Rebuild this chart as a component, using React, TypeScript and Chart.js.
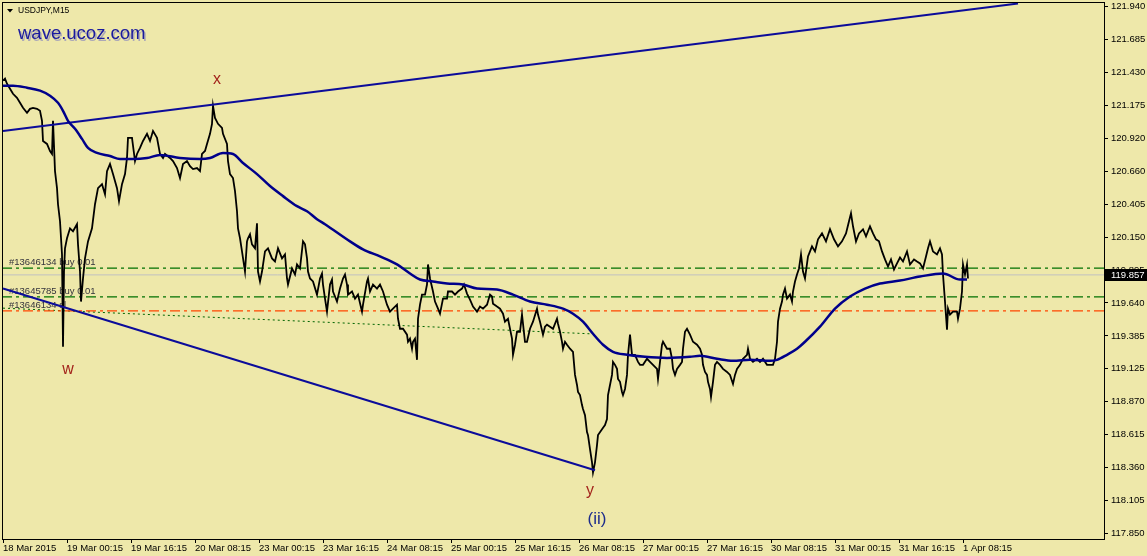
import React, { useEffect, useRef } from "react";
import { Chart, registerables } from "chart.js";
Chart.register(...registerables);

const W = 1147;
const H = 556;
const BG = "#eee8aa";
const FONT = "Liberation Sans";

// ---- data (bar index = 15-minute bar counted from 18 Mar 2015 08:15) ----
const timeTickBars = [0, 64, 128, 192, 256, 320, 384, 448, 512, 576, 640, 704, 768, 832, 896, 960];
const timeLabels = [
  "18 Mar 2015", "19 Mar 00:15", "19 Mar 16:15", "20 Mar 08:15", "23 Mar 00:15", "23 Mar 16:15",
  "24 Mar 08:15", "25 Mar 00:15", "25 Mar 16:15", "26 Mar 08:15", "27 Mar 00:15", "27 Mar 16:15",
  "30 Mar 08:15", "31 Mar 00:15", "31 Mar 16:15", "1 Apr 08:15",
];
const priceTickLabels = [
  "121.940", "121.685", "121.430", "121.175", "120.920", "120.660", "120.405", "120.150",
  "119.895", "119.640", "119.385", "119.125", "118.870", "118.615", "118.360", "118.105", "117.850",
];
const axisTop = 121.974;
const axisBottom = 117.808;

const priceSeries: [number, number][] = [
  [0,121.364],[2,121.379],[4,121.340],[7,121.301],[10,121.262],[14,121.231],[17,121.192],[20,121.153],[24,121.114],[27,121.145],[30,121.153],[34,121.145],[37,121.130],[39,121.052],[40,120.896],[44,120.873],[47,120.818],[49,120.795],[50,121.052],[52,120.662],[54,120.530],[55,120.405],[57,120.273],[59,120.016],[60,119.299],[61,119.883],[62,120.063],[64,120.141],[67,120.218],[70,120.195],[74,120.250],[75,120.094],[77,119.883],[78,119.650],[80,119.829],[82,119.985],[85,120.117],[89,120.218],[92,120.405],[95,120.530],[99,120.561],[102,120.483],[104,120.662],[107,120.717],[110,120.639],[114,120.530],[116,120.429],[119,120.561],[122,120.639],[124,120.764],[125,120.920],[129,120.920],[132,120.740],[134,120.795],[137,120.842],[140,120.896],[144,120.951],[147,120.896],[150,120.974],[154,120.920],[157,120.795],[160,120.764],
  [162,120.795],[167,120.764],[170,120.740],[174,120.686],[177,120.608],[180,120.717],[184,120.740],[187,120.701],[190,120.678],[194,120.686],[197,120.662],[199,120.795],[202,120.818],[204,120.873],[207,120.951],[209,121.029],[210,121.169],[212,121.075],[215,121.029],[219,120.997],[220,120.951],[224,120.873],[225,120.740],[227,120.639],[230,120.608],[232,120.507],[234,120.351],[235,120.218],[237,120.141],[239,120.039],[242,119.883],[244,120.117],[245,120.141],[247,120.172],[249,120.094],[252,120.063],[254,120.257],[255,119.883],[257,119.806],[259,119.883],[262,120.039],[265,120.063],[269,119.985],[272,119.961],[275,120.063],[279,119.985],[282,120.016],[284,119.829],[285,119.782],[289,119.907],[292,119.860],[294,119.938],[297,119.907],[300,120.117],[302,120.094],[304,119.985],[305,119.883],[307,119.829],[310,119.806],[314,119.704],
  [317,119.829],[319,119.868],[320,119.782],[322,119.673],[324,119.572],[327,119.782],[329,119.821],[330,119.728],[334,119.650],[337,119.751],[340,119.829],[342,119.860],[344,119.782],[345,119.704],[349,119.728],[352,119.673],[355,119.704],[359,119.572],[360,119.626],[364,119.806],[365,119.829],[367,119.728],[370,119.782],[374,119.751],[377,119.782],[380,119.728],[384,119.626],[387,119.572],[390,119.595],[394,119.626],[395,119.517],[397,119.439],[400,119.439],[404,119.393],[405,119.338],[407,119.362],[409,119.284],[410,119.338],[412,119.362],[414,119.198],[415,119.517],[417,119.626],[419,119.704],[422,119.704],[424,119.782],[425,119.938],[427,119.829],[430,119.728],[432,119.650],[435,119.595],[437,119.556],[440,119.673],[444,119.673],[445,119.728],[449,119.728],[452,119.704],[455,119.728],[459,119.751],[461,119.782],[464,119.712],[467,119.665],[470,119.611],[474,119.572],
  [477,119.611],[480,119.595],[484,119.626],[487,119.704],[489,119.689],[490,119.634],[494,119.611],[497,119.595],[500,119.556],[502,119.494],[505,119.517],[507,119.439],[509,119.362],[510,119.237],[512,119.315],[514,119.416],[517,119.416],[519,119.549],[522,119.338],[524,119.338],[527,119.439],[530,119.494],[534,119.595],[535,119.549],[537,119.494],[540,119.393],[542,119.455],[544,119.471],[547,119.455],[550,119.439],[554,119.517],[555,119.478],[557,119.416],[559,119.338],[560,119.284],[562,119.338],[564,119.315],[567,119.284],[570,119.260],[572,119.081],[574,119.003],[575,118.949],[577,118.925],[579,118.847],[580,118.816],[582,118.769],[584,118.637],[585,118.614],[587,118.505],[589,118.403],[590,118.325],[592,118.403],[594,118.536],[595,118.614],[599,118.660],[602,118.692],[604,118.738],[605,118.925],[607,119.003],[609,119.081],[610,119.182],[612,119.159],[614,119.128],[615,119.050],[617,119.027],[619,118.949],[620,118.925],[622,118.972],[624,119.081],[625,119.237],[627,119.393],[629,119.237],[632,119.237],[635,119.182],
  [637,119.159],[640,119.159],[644,119.206],[647,119.182],[650,119.159],[654,119.128],[655,119.050],[657,119.182],[659,119.315],[660,119.338],[664,119.284],[667,119.284],[669,119.206],[670,119.128],[672,119.081],[674,119.128],[677,119.159],[679,119.182],[680,119.284],[682,119.416],[684,119.439],[687,119.393],[690,119.338],[694,119.315],[697,119.284],[699,119.237],[700,119.159],[702,119.104],[704,119.081],[705,119.027],[707,118.972],[708,118.910],[710,119.027],[712,119.159],[714,119.182],[717,119.159],[720,119.128],[724,119.104],[727,119.081],[730,119.011],[732,119.081],[734,119.128],[737,119.159],[740,119.206],[744,119.237],[745,119.284],[747,119.206],[750,119.182],[754,119.206],[757,119.182],[760,119.206],[764,119.159],[767,119.159],[770,119.159],[772,119.206],[774,119.338],[775,119.494],[777,119.595],[779,119.650],[780,119.704],[782,119.751],[784,119.673],[787,119.704],[789,119.650],[790,119.728],[792,119.806],[794,119.860],[796,119.907],[798,120.016],[800,119.883],[802,119.829],
  [805,120.000],[809,120.078],[812,120.039],[815,120.133],[819,120.179],[823,120.117],[827,120.211],[831,120.133],[835,120.078],[839,120.117],[843,120.179],[846,120.273],[848,120.335],[850,120.234],[853,120.117],[856,120.179],[860,120.211],[863,120.156],[867,120.234],[870,120.179],[873,120.133],[876,120.117],[879,120.039],[882,119.977],[885,119.922],[888,119.977],[891,119.899],[894,119.946],[897,119.992],[900,119.961],[904,120.039],[907,119.938],[911,119.977],[914,119.961],[917,119.946],[920,119.907],[923,120.000],[925,120.063],[927,120.117],[930,120.039],[934,120.016],[937,120.063],[939,120.016],[940,119.860],[942,119.650],[944,119.432],[945,119.595],[947,119.549],[950,119.572],[954,119.572],[955,119.517],[957,119.595],[959,119.728],[960,119.938],[962,119.860],[964,119.938],[965,119.829],
];

const maSeries: [number, number][] = [
  [0,121.325],[10,121.325],[24,121.309],[37,121.286],[47,121.247],[55,121.192],[60,121.130],[65,121.052],[72,120.990],[79,120.912],[85,120.842],[94,120.803],[107,120.779],[117,120.756],[130,120.756],[144,120.764],[157,120.787],[177,120.764],[197,120.756],[207,120.764],[220,120.803],[230,120.795],[240,120.725],[254,120.639],[267,120.546],[280,120.468],[294,120.390],[304,120.351],[314,120.289],[322,120.250],[347,120.117],[360,120.055],[377,120.000],[394,119.938],[407,119.868],[417,119.821],[430,119.806],[444,119.790],[460,119.782],[474,119.751],[494,119.743],[510,119.704],[527,119.650],[544,119.626],[560,119.595],[570,119.556],[580,119.494],[590,119.400],[600,119.315],[610,119.260],[624,119.237],[642,119.221],[664,119.213],[687,119.221],[697,119.229],[714,119.206],[730,119.190],[747,119.198],[767,119.190],[774,119.198],[784,119.237],[794,119.284],[802,119.338],[817,119.455],[832,119.595],[847,119.689],[862,119.751],[877,119.790],[897,119.813],[917,119.844],[940,119.868],[957,119.821],[964,119.821],
];

const upperTrendBars = [0, 1015];
const upperTrendPrices = [120.974, 121.963];
const lowerTrendBars = [0, 592];
const lowerTrendPrices = [119.751, 118.341];
const stopTrendBars = [0, 587];
const stopTrendPrices = [119.599, 119.400];

const orderLevels = [119.909, 119.686, 119.577];
const orderLabels = ["#13646134 buy 0.01", "#13645785 buy 0.01", "#13646134 sl"];
const bidPrice = 119.857;
const bidLabel = "119.857";

const waveTexts = ["x", "w", "y", "(ii)"];
const waveBars = [214, 65, 587, 594];
const wavePrices = [121.369, 119.120, 118.185, 117.959];

const symbolTitle = "USDJPY,M15";
const siteTitle = "wave.ucoz.com";

export default function App() {
  const ref = useRef<HTMLCanvasElement>(null);

  useEffect(() => {
    const canvas = ref.current;
    if (!canvas) return;

    const bgPlugin = {
      id: "bg",
      beforeDraw(chart: any) {
        const c = chart.ctx;
        c.save();
        c.fillStyle = BG;
        c.fillRect(0, 0, chart.width, chart.height);
        c.restore();
      },
    };

    const tradeLabelPlugin = {
      id: "tradeLabels",
      beforeDatasetsDraw(chart: any) {
        const c = chart.ctx;
        const y = chart.scales.y;
        const a = chart.chartArea;
        c.save();
        c.font = `9.5px "${FONT}"`;
        c.fillStyle = "#34343c";
        c.textAlign = "left";
        c.textBaseline = "middle";
        orderLevels.forEach((lv, i) => {
          c.fillText(orderLabels[i], a.left + 7, y.getPixelForValue(lv) - 6);
        });
        c.restore();
      },
    };

    const overlayPlugin = {
      id: "overlay",
      afterDraw(chart: any) {
        const c = chart.ctx;
        const xs = chart.scales.x;
        const ys = chart.scales.y;
        const a = chart.chartArea;
        c.save();
        // border
        c.strokeStyle = "#000";
        c.lineWidth = 1;
        c.strokeRect(a.left + 0.5, a.top + 0.5, a.right - a.left, a.bottom - a.top);

        // wave labels
        waveTexts.forEach((t, i) => {
          const isDegree = t.startsWith("(");
          c.font = `${isDegree ? 17 : 16}px "${FONT}"`;
          c.fillStyle = isDegree ? "#1c2c8c" : "#a3241c";
          c.textAlign = "center";
          c.textBaseline = "middle";
          c.fillText(t, xs.getPixelForValue(waveBars[i]), ys.getPixelForValue(wavePrices[i]));
        });

        // bid box
        const by = Math.round(ys.getPixelForValue(bidPrice));
        c.fillStyle = "#000";
        c.fillRect(a.right + 1, by - 6, W - a.right - 1, 12);
        c.fillStyle = "#fff";
        c.font = `9.5px "${FONT}"`;
        c.textAlign = "left";
        c.textBaseline = "middle";
        c.fillText(bidLabel, a.right + 7, by);

        // title
        c.fillStyle = "#000";
        c.beginPath();
        c.moveTo(7, 9);
        c.lineTo(13, 9);
        c.lineTo(10, 12.5);
        c.closePath();
        c.fill();
        c.font = `8.5px "${FONT}"`;
        c.textBaseline = "middle";
        c.fillText(symbolTitle, 18, 11);

        // site text with shadow
        c.font = `18.5px "${FONT}"`;
        c.textBaseline = "alphabetic";
        c.fillStyle = "rgba(90,90,200,0.45)";
        c.fillText(siteTitle, 19.5, 40.5);
        c.fillStyle = "#1a1a9e";
        c.fillText(siteTitle, 18, 38.5);
        c.restore();
      },
    };

    const line = (data: { x: number; y: number }[], color: string, width: number, order: number, dash: number[] = []) => ({
      data,
      borderColor: color,
      borderWidth: width,
      borderDash: dash,
      pointRadius: 0,
      pointHoverRadius: 0,
      fill: false,
      tension: 0,
      order,
    });

    const hLine = (v: number) => [
      { x: -1, y: v },
      { x: 1101, y: v },
    ];

    const chart = new Chart(canvas, {
      type: "line",
      data: {
        datasets: [
          { ...line(maSeries.map(([x, y]) => ({ x, y })), "#00008b", 2.5, 1), cubicInterpolationMode: "monotone" } as any,
          line(upperTrendBars.map((x, i) => ({ x, y: upperTrendPrices[i] })), "#0c0c9a", 2, 1),
          line(lowerTrendBars.map((x, i) => ({ x, y: lowerTrendPrices[i] })), "#0c0c9a", 2, 1),
          line(priceSeries.map(([x, y]) => ({ x, y })), "#000000", 1.8, 2),
          line(hLine(orderLevels[0]), "#007000", 1.2, 3, [10, 4, 3, 4]),
          line(hLine(orderLevels[1]), "#007000", 1.2, 3, [10, 4, 3, 4]),
          line(hLine(orderLevels[2]), "#ff4500", 1.2, 3, [10, 4, 3, 4]),
          line(hLine(bidPrice), "#c0c0c0", 1, 4),
          line(stopTrendBars.map((x, i) => ({ x, y: stopTrendPrices[i] })), "#006400", 1, 3, [2, 3]),
        ],
      },
      options: {
        responsive: false,
        animation: false,
        devicePixelRatio: 1,
        layout: { padding: { left: 2, top: 2, right: 0, bottom: 0 } },
        plugins: { legend: { display: false }, tooltip: { enabled: false } },
        elements: { point: { radius: 0 } },
        scales: {
          x: {
            type: "linear",
            position: "bottom",
            min: -1,
            max: 1101,
            border: { display: false },
            grid: { display: true, drawOnChartArea: false, drawTicks: true, tickLength: 4, color: "#000", lineWidth: 1 },
            ticks: {
              autoSkip: false,
              maxRotation: 0,
              minRotation: 0,
              align: "start",
              padding: 0,
              color: "#000",
              font: { family: FONT, size: 9.5 },
              callback: (_v: any, i: number) => timeLabels[i] ?? "",
            },
            afterBuildTicks: (s: any) => {
              s.ticks = timeTickBars.map((v) => ({ value: v }));
            },
            afterFit: (s: any) => {
              s.height = 17;
              s.paddingLeft = 0;
              s.paddingRight = 0;
              s.paddingTop = 0;
              s.paddingBottom = 0;
            },
          } as any,
          y: {
            type: "linear",
            position: "right",
            min: axisBottom,
            max: axisTop,
            border: { display: false },
            grid: { display: true, drawOnChartArea: false, drawTicks: true, tickLength: 4, color: "#000", lineWidth: 1 },
            ticks: {
              autoSkip: false,
              padding: 3,
              color: "#000",
              font: { family: FONT, size: 9.5 },
              callback: (v: any) => {
                const vals = priceTickLabels.map((t) => parseFloat(t));
                const top = vals[0];
                const bottom = vals[vals.length - 1];
                const step = (top - bottom) / (vals.length - 1);
                const k = Math.round((top - v) / step);
                return priceTickLabels[k] ?? "";
              },
            },
            afterBuildTicks: (s: any) => {
              const vals = priceTickLabels.map((t) => parseFloat(t));
              const top = vals[0];
              const bottom = vals[vals.length - 1];
              const step = (top - bottom) / (vals.length - 1);
              const ticks = vals.map((_, k) => ({ value: top - k * step }));
              s.ticks = ticks.reverse();
            },
            afterFit: (s: any) => {
              s.width = W - 1104;
              s.paddingLeft = 0;
              s.paddingRight = 0;
              s.paddingTop = 0;
              s.paddingBottom = 0;
            },
          } as any,
        },
      },
      plugins: [bgPlugin, tradeLabelPlugin, overlayPlugin],
    } as any);

    return () => chart.destroy();
  }, []);

  return (
    <div style={{ position: "absolute", left: 0, top: 0, width: W, height: H }}>
      <canvas ref={ref} width={W} height={H} style={{ width: W, height: H, display: "block" }} />
    </div>
  );
}
